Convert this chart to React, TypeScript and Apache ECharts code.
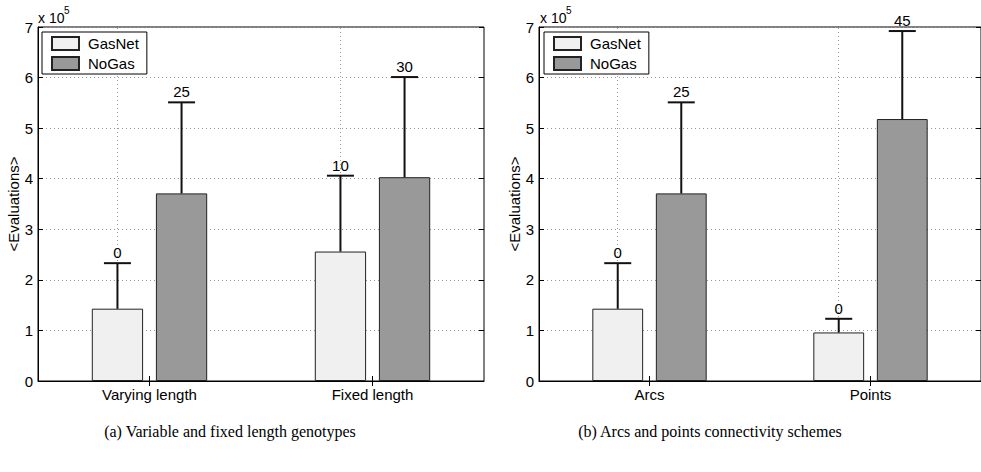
import React, { useEffect, useRef } from "react";
import * as echarts from "echarts";

// ---- Data (evaluations) ----
const categoriesA = ["Varying length", "Fixed length"];
const categoriesB = ["Arcs", "Points"];
const seriesNames = ["GasNet", "NoGas"];

const gasNetMeanA = [143000, 256000];
const gasNetErrTopA = [233000, 406000];
const gasNetLabelA = ["0", "10"];
const noGasMeanA = [371000, 403000];
const noGasErrTopA = [551000, 601000];
const noGasLabelA = ["25", "30"];

const gasNetMeanB = [143000, 96000];
const gasNetErrTopB = [233000, 123000];
const gasNetLabelB = ["0", "0"];
const noGasMeanB = [371000, 518000];
const noGasErrTopB = [551000, 692000];
const noGasLabelB = ["25", "45"];

const yTickMax = 700000;
const yTickStep = 100000;
const captionA = "(a) Variable and fixed length genotypes";
const captionB = "(b) Arcs and points connectivity schemes";

const SANS = "Liberation Sans, Arial, Helvetica, sans-serif";
const SERIF = "Liberation Serif, DejaVu Serif, serif";
const BAR_FRAC = 0.23;
const GAP_FRAC = 0.25;

function errData(mean: number[], top: number[]) {
  return mean.map((m, i) => [i, m, top[i]]);
}

function makeErrRender(side: number, labels: string[]) {
  return (params: any, api: any) => {
    const ci = api.value(0);
    const base = api.value(1);
    const top = api.value(2);
    const label = labels[params.dataIndex];
    const band = api.size([1, 0])[0];
    const bw = band * BAR_FRAC;
    const off = side * (bw + bw * GAP_FRAC) / 2;
    const p0 = api.coord([ci, base]);
    const p1 = api.coord([ci, top]);
    const cx = p0[0] + off;
    const capHalf = 13.5;
    const ls = { stroke: "#111", lineWidth: 2 };
    return {
      type: "group",
      children: [
        { type: "line", shape: { x1: cx, y1: p0[1], x2: cx, y2: p1[1] }, style: ls },
        { type: "line", shape: { x1: cx - capHalf, y1: p1[1], x2: cx + capHalf, y2: p1[1] }, style: ls },
        {
          type: "text",
          x: cx,
          y: p1[1] - 3,
          style: { text: label, fill: "#000", fontSize: 15, fontFamily: SANS, align: "center", verticalAlign: "bottom" },
        },
      ],
    };
  };
}

function buildAxes(gi: number, cats: string[]) {
  const xAxes = [
    {
      type: "category",
      gridIndex: gi,
      data: cats,
      boundaryGap: true,
      axisLine: { show: true, lineStyle: { color: "#000", width: 1 } },
      axisTick: { show: true, inside: true, alignWithLabel: true, length: 5, lineStyle: { color: "#000" } },
      axisLabel: { color: "#000", fontSize: 15, fontFamily: SANS, margin: 6 },
      splitLine: { show: false },
    },
    {
      type: "category",
      gridIndex: gi,
      position: "top",
      data: cats,
      boundaryGap: true,
      axisLine: { show: false },
      axisTick: { show: true, inside: true, alignWithLabel: true, length: 5, lineStyle: { color: "#000" } },
      axisLabel: { show: false },
      splitLine: { show: false },
    },
  ];
  const yAxes = [
    {
      type: "value",
      gridIndex: gi,
      min: 0,
      max: yTickMax,
      interval: yTickStep,
      name: "<Evaluations>",
      nameLocation: "middle",
      nameGap: 12,
      nameTextStyle: { color: "#000", fontSize: 15, fontFamily: SANS },
      axisLine: { show: true, lineStyle: { color: "#000" } },
      axisTick: { show: true, inside: true, length: 5, lineStyle: { color: "#000" } },
      axisLabel: { color: "#000", fontSize: 15, fontFamily: SANS, margin: 5, formatter: (v: number) => String(v / 100000) },
      splitLine: { show: true, lineStyle: { color: "#999", type: [1, 3], width: 1 } },
    },
    {
      type: "value",
      gridIndex: gi,
      position: "right",
      min: 0,
      max: yTickMax,
      interval: yTickStep,
      axisLine: { show: false },
      axisTick: { show: true, inside: true, length: 5, lineStyle: { color: "#000" } },
      axisLabel: { show: false },
      splitLine: { show: false },
    },
  ];
  return { xAxes, yAxes };
}

function buildSeries(gi: number, cats: string[], gm: number[], ge: number[], gl: string[], nm: number[], ne: number[], nl: string[]) {
  const xi = gi * 2;
  const yi = gi * 2;
  return [
    {
      name: seriesNames[0],
      type: "bar",
      xAxisIndex: xi,
      yAxisIndex: yi,
      data: gm,
      barWidth: BAR_FRAC * 100 + "%",
      barGap: GAP_FRAC * 100 + "%",
      itemStyle: { color: "#f0f0f0", borderColor: "#222", borderWidth: 1 },
      z: 3,
      markLine: {
        silent: true,
        symbol: "none",
        label: { show: false },
        lineStyle: { color: "#999", type: [1, 3], width: 1 },
        data: cats.map((c) => ({ xAxis: c })),
        z: 1,
      },
    },
    {
      name: seriesNames[1],
      type: "bar",
      xAxisIndex: xi,
      yAxisIndex: yi,
      data: nm,
      barWidth: BAR_FRAC * 100 + "%",
      barGap: GAP_FRAC * 100 + "%",
      itemStyle: { color: "#999999", borderColor: "#222", borderWidth: 1 },
      z: 3,
    },
    {
      type: "custom",
      xAxisIndex: xi,
      yAxisIndex: yi,
      renderItem: makeErrRender(-1, gl),
      data: errData(gm, ge),
      encode: { x: 0, y: [1, 2] },
      z: 4,
      silent: true,
    },
    {
      type: "custom",
      xAxisIndex: xi,
      yAxisIndex: yi,
      renderItem: makeErrRender(1, nl),
      data: errData(nm, ne),
      encode: { x: 0, y: [1, 2] },
      z: 4,
      silent: true,
    },
  ];
}

function legendFor(left: number) {
  return {
    data: seriesNames,
    left,
    top: 32,
    orient: "vertical",
    backgroundColor: "#fff",
    borderColor: "#000",
    borderWidth: 1,
    borderRadius: 0,
    padding: [4, 8, 3, 9],
    itemWidth: 27,
    itemHeight: 13,
    itemGap: 5,
    icon: "rect",
    selectedMode: false,
    textStyle: { color: "#000", fontSize: 15, fontFamily: SANS, padding: [0, 0, 0, 4] },
    z: 10,
  };
}

function expLabel(x: number) {
  return [
    { type: "text", x: x, y: 25, style: { text: "x 10", fill: "#000", fontSize: 14, fontFamily: SANS, verticalAlign: "bottom" } },
    { type: "text", x: x + 26, y: 15, style: { text: "5", fill: "#000", fontSize: 10, fontFamily: SANS, verticalAlign: "bottom" } },
  ];
}

export default function App() {
  const ref = useRef<HTMLDivElement>(null);
  useEffect(() => {
    if (!ref.current) return;
    const chart = echarts.init(ref.current, undefined, { renderer: "svg" });
    const a = buildAxes(0, categoriesA);
    const b = buildAxes(1, categoriesB);
    chart.setOption({
      animation: false,
      backgroundColor: "#fff",
      grid: [
        { left: 38, top: 27, width: 446, height: 354, show: true, borderColor: "#000", borderWidth: 1, backgroundColor: "transparent" },
        { left: 539, top: 27, width: 448, height: 354, show: true, borderColor: "#000", borderWidth: 1, backgroundColor: "transparent" },
      ],
      legend: [legendFor(42), legendFor(544)],
      xAxis: [...a.xAxes, ...b.xAxes],
      yAxis: [...a.yAxes, ...b.yAxes],
      series: [
        ...buildSeries(0, categoriesA, gasNetMeanA, gasNetErrTopA, gasNetLabelA, noGasMeanA, noGasErrTopA, noGasLabelA),
        ...buildSeries(1, categoriesB, gasNetMeanB, gasNetErrTopB, gasNetLabelB, noGasMeanB, noGasErrTopB, noGasLabelB),
      ],
      graphic: [
        ...expLabel(38),
        ...expLabel(540),
        { type: "text", x: 230, y: 431, style: { text: captionA, fill: "#000", fontSize: 16, fontFamily: SERIF, align: "center", verticalAlign: "middle" } },
        { type: "text", x: 710, y: 431, style: { text: captionB, fill: "#000", fontSize: 16, fontFamily: SERIF, align: "center", verticalAlign: "middle" } },
      ],
    });
    return () => chart.dispose();
  }, []);
  return <div ref={ref} style={{ position: "absolute", left: 0, top: 0, width: 981, height: 472 }} />;
}
